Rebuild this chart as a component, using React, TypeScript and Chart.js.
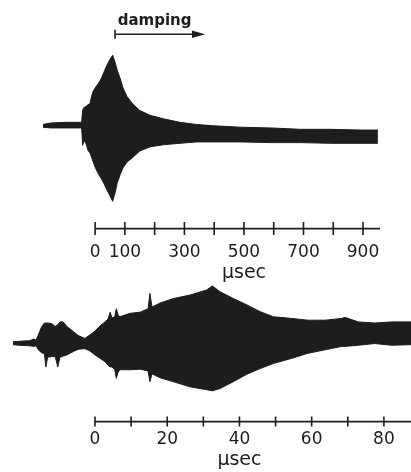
import React, { useEffect, useRef } from 'react';
import { Chart, registerables } from 'chart.js';

Chart.register(...registerables);

const INK = '#1f1c1d';
const FONT = '"DejaVu Sans", sans-serif';

// ---------- Top trace (time in microseconds, relative amplitude) ----------
const TOP_TIME_US = [
  -175, -150, -100, -60, -45, -42, -39, -35, -30, -24, -17, -12, -6, 0, 10, 20, 30, 40, 50, 59,
  67, 74, 84, 94, 107, 127, 150, 185, 230, 285, 340, 400, 490, 590, 690, 790, 890, 950,
];
const TOP_UPPER = [
  0.01, 0.03, 0.04, 0.04, 0.04, 0.21, 0.24, 0.26, 0.27, 0.29, 0.31, 0.41, 0.49, 0.53, 0.59, 0.66, 0.76, 0.86, 0.94, 1.0,
  0.9, 0.79, 0.67, 0.53, 0.41, 0.3, 0.21, 0.14, 0.09, 0.04, 0.01, -0.01, -0.03, -0.04, -0.06, -0.06, -0.07, -0.07,
];
const TOP_LOWER = [
  -0.03, -0.04, -0.04, -0.04, -0.04, -0.29, -0.24, -0.23, -0.27, -0.36, -0.4, -0.46, -0.53, -0.6, -0.69, -0.76, -0.84, -0.93, -1.01, -1.09,
  -0.97, -0.83, -0.71, -0.61, -0.53, -0.46, -0.37, -0.31, -0.28, -0.26, -0.24, -0.24, -0.24, -0.25, -0.25, -0.26, -0.26, -0.26,
];
const TOP_TICKS = [0, 100, 200, 300, 400, 500, 600, 700, 800, 900];
const TOP_TICK_LABELS = [0, 100, 300, 500, 700, 900];

// ---------- Bottom trace ----------
const BOTTOM_TIME_US = [
  -22.7, -21, -18, -17, -16.3, -15.7, -14.8, -14.0, -13.6, -13.1, -12.0, -11.0, -10.3, -9.7, -8.8, -7.8, -6.0, -4.6,
  -2.8, -1.4, 0, 1.4, 2.8, 3.6, 4.2, 4.7, 5.5, 5.9, 6.4, 6.9, 9.7, 12.5, 14.7, 15.2, 15.8, 18.0, 21.7, 26.3, 30.9,
  32.5, 34.6, 38.3, 42.0, 45.7, 49.4, 54.5, 59.0, 63.7, 68.3, 69.2, 72.9, 77.5, 82.1, 87.5,
];
const BOTTOM_UPPER = [
  0.02, 0.03, 0.04, 0.07, 0.05, 0.14, 0.28, 0.35, 0.35, 0.35, 0.34, 0.29, 0.32, 0.37, 0.37, 0.29, 0.2, 0.13,
  0.08, 0.14, 0.21, 0.3, 0.37, 0.42, 0.54, 0.44, 0.46, 0.6, 0.49, 0.46, 0.52, 0.54, 0.6, 0.87, 0.63, 0.7, 0.78, 0.84, 0.93,
  1.0, 0.9, 0.78, 0.67, 0.55, 0.46, 0.43, 0.4, 0.4, 0.43, 0.45, 0.37, 0.35, 0.37, 0.37,
];
const BOTTOM_LOWER = [
  -0.03, -0.04, -0.05, -0.06, -0.05, -0.12, -0.17, -0.19, -0.42, -0.25, -0.24, -0.24, -0.42, -0.25, -0.23, -0.21, -0.15, -0.11,
  -0.1, -0.14, -0.21, -0.27, -0.33, -0.39, -0.42, -0.42, -0.47, -0.62, -0.51, -0.47, -0.47, -0.46, -0.49, -0.68, -0.54, -0.61, -0.68, -0.77, -0.82,
  -0.84, -0.8, -0.68, -0.55, -0.45, -0.36, -0.27, -0.18, -0.12, -0.06, -0.06, -0.04, -0.01, -0.04, -0.03,
];
const BOTTOM_TICKS = [0, 10, 20, 30, 40, 50, 60, 70, 80];
const BOTTOM_TICK_LABELS = [0, 20, 40, 60, 80];

const AXIS_TITLE = 'μsec';
const DAMPING_TEXT = 'damping';

const rulerPlugin = {
  id: 'ruler',
  afterDraw(chart: any, _args: any, opts: any) {
    const x = chart.scales.x;
    const ctx = chart.ctx;
    const y0 = x.top;
    ctx.save();
    ctx.strokeStyle = INK;
    ctx.lineWidth = 1.6;
    ctx.beginPath();
    ctx.moveTo(x.getPixelForValue(opts.from), y0);
    ctx.lineTo(x.getPixelForValue(opts.to), y0);
    ctx.stroke();
    ctx.beginPath();
    x.ticks.forEach((t: any) => {
      const px = x.getPixelForValue(t.value);
      ctx.moveTo(px, y0 - opts.tick);
      ctx.lineTo(px, y0 + opts.tick);
    });
    ctx.stroke();
    ctx.fillStyle = INK;
    ctx.font = `19px ${FONT}`;
    ctx.textAlign = 'center';
    ctx.textBaseline = 'middle';
    ctx.fillText(opts.title, x.getPixelForValue(opts.titleAt), y0 + opts.titleOffset);
    ctx.restore();
  },
};

const dampingPlugin = {
  id: 'damping',
  afterDraw(chart: any, _args: any, opts: any) {
    if (!opts || !opts.text) return;
    const { x, y } = chart.scales;
    const ctx = chart.ctx;
    const x0 = x.getPixelForValue(opts.from);
    const x1 = x.getPixelForValue(opts.to);
    const yl = y.getPixelForValue(opts.level);
    ctx.save();
    ctx.strokeStyle = INK;
    ctx.fillStyle = INK;
    ctx.lineWidth = 1.6;
    ctx.beginPath();
    ctx.moveTo(x0, yl);
    ctx.lineTo(x1 - 8, yl);
    ctx.stroke();
    ctx.beginPath();
    ctx.moveTo(x0, yl - 4.5);
    ctx.lineTo(x0, yl + 4.5);
    ctx.stroke();
    ctx.beginPath();
    ctx.moveTo(x1, yl);
    ctx.lineTo(x1 - 13, yl - 3.8);
    ctx.lineTo(x1 - 13, yl + 3.8);
    ctx.closePath();
    ctx.fill();
    ctx.font = `bold 15px ${FONT}`;
    ctx.textAlign = 'center';
    ctx.textBaseline = 'alphabetic';
    ctx.fillText(opts.text, x.getPixelForValue(opts.textAt), y.getPixelForValue(opts.textLevel));
    ctx.restore();
  },
};

function makeConfig(p: any): any {
  const upper = p.t.map((t: number, i: number) => ({ x: t, y: p.upper[i] }));
  const lower = p.t.map((t: number, i: number) => ({ x: t, y: p.lower[i] }));
  const ds = {
    borderColor: INK,
    backgroundColor: INK,
    borderWidth: 1,
    pointRadius: 0,
    tension: 0,
  };
  return {
    type: 'line',
    data: {
      datasets: [
        { ...ds, data: upper, fill: false },
        { ...ds, data: lower, fill: '-1' },
      ],
    },
    options: {
      responsive: false,
      animation: false,
      events: [],
      layout: { padding: p.padding },
      plugins: {
        legend: { display: false },
        tooltip: { enabled: false },
        ruler: p.ruler,
        damping: p.damping || {},
      },
      scales: {
        x: {
          type: 'linear',
          min: p.xMin,
          max: p.xMax,
          grid: { display: false, drawTicks: false },
          border: { display: false },
          afterBuildTicks: (s: any) => {
            s.ticks = p.ticks.map((v: number) => ({ value: v }));
          },
          ticks: {
            autoSkip: false,
            maxRotation: 0,
            padding: p.tickPadding,
            color: INK,
            font: { family: FONT, size: 17 },
            callback: (v: number) => (p.labels.includes(v) ? String(v) : ''),
          },
        },
        y: { display: false, min: p.yMin, max: p.yMax },
      },
    },
    plugins: [rulerPlugin, dampingPlugin],
  };
}

export default function App() {
  const topRef = useRef<HTMLCanvasElement>(null);
  const botRef = useRef<HTMLCanvasElement>(null);

  useEffect(() => {
    const top = new Chart(
      topRef.current as HTMLCanvasElement,
      makeConfig({
        t: TOP_TIME_US,
        upper: TOP_UPPER,
        lower: TOP_LOWER,
        ticks: TOP_TICKS,
        labels: TOP_TICK_LABELS,
        xMin: -175,
        xMax: 957,
        yMin: -1.48,
        yMax: 1.79,
        padding: { top: 0, left: 43, right: 31, bottom: 5 },
        tickPadding: 14,
        ruler: { from: 0, to: 957, tick: 6.5, title: AXIS_TITLE, titleAt: 500, titleOffset: 44 },
        damping: { text: DAMPING_TEXT, from: 67, to: 369, level: 1.3, textAt: 200, textLevel: 1.43 },
      })
    );
    const bottom = new Chart(
      botRef.current as HTMLCanvasElement,
      makeConfig({
        t: BOTTOM_TIME_US,
        upper: BOTTOM_UPPER,
        lower: BOTTOM_LOWER,
        ticks: BOTTOM_TICKS,
        labels: BOTTOM_TICK_LABELS,
        xMin: -22.7,
        xMax: 87.5,
        yMin: -1.38,
        yMax: 1.07,
        padding: { top: 0, left: 13, right: 0, bottom: 14 },
        tickPadding: 8,
        ruler: { from: 0, to: 87.5, tick: 5, title: AXIS_TITLE, titleAt: 40, titleOffset: 38.5 },
      })
    );
    return () => {
      top.destroy();
      bottom.destroy();
    };
  }, []);

  return (
    <div style={{ position: 'absolute', left: 0, top: 0, width: 411, height: 472, background: '#fff' }}>
      <canvas ref={topRef} width={411} height={282} style={{ display: 'block' }} />
      <canvas ref={botRef} width={411} height={190} style={{ display: 'block' }} />
    </div>
  );
}
